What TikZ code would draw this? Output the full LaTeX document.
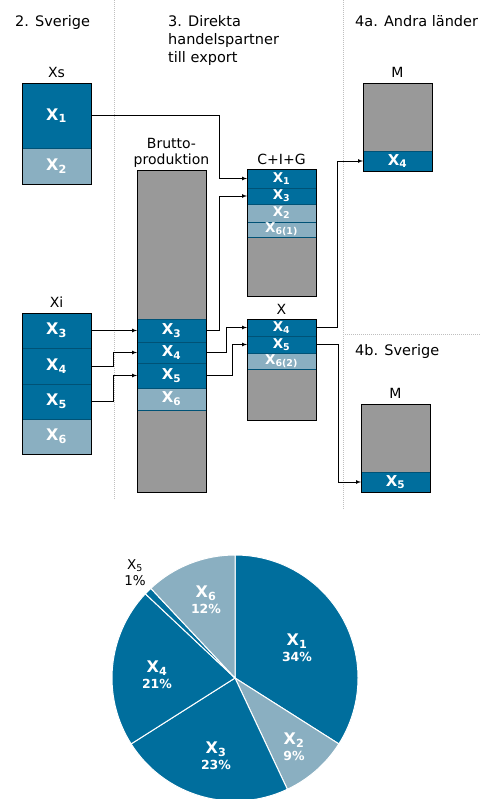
\documentclass[tikz,border=0pt]{standalone}
\usepackage{fontspec}
\setmainfont{DejaVu Sans}
\definecolor{dblue}{HTML}{006E9D}
\definecolor{lblue}{HTML}{8AAFC1}
\definecolor{grey}{HTML}{999999}
\usetikzlibrary{arrows.meta,positioning}
\tikzset{>=latex}
\tikzset{
  box/.style={fill=grey,minimum width=69,inner sep=0,outer sep=0,anchor=north west},
  seg/.style={draw=dblue!75!black,line width=0.4pt,minimum width=69,inner sep=0,outer sep=0,text=white,font=\bfseries\fontsize{15}{15}\selectfont},
  bigseg/.style={seg,font=\bfseries\fontsize{16}{16}\selectfont},
  smallseg/.style={seg,font=\bfseries\fontsize{13.5}{13.5}\selectfont},
  dark/.style={fill=dblue},
  light/.style={fill=lblue},
  outline/.style={draw,line width=0.9pt},
  head/.style={font=\fontsize{14.5}{18}\selectfont,inner sep=0,anchor=north west,align=left},
  title/.style={font=\fontsize{14}{16}\selectfont,inner sep=0,align=center},
  flow/.style={->,line width=0.7pt},
  sep/.style={draw=gray!50,dash pattern=on 1pt off 1pt,line width=1pt},
  slice/.style={draw=white,line width=1pt},
  pct/.style={text=white,font=\bfseries\fontsize{12.5}{16}\selectfont,align=center}
}
\newcommand{\xsub}[1]{X\textsubscript{#1}}
\newcommand{\slicelab}[2]{{\fontsize{16}{17}\selectfont\xsub{#1}}\\#2}

\begin{document}
\begin{tikzpicture}[x=1pt,y=-1pt]
  \useasboundingbox (0,0) rectangle (480,799);
  \draw[sep] (114,0) -- (114,500);
  \draw[sep] (343,0) -- (343,510);
  \draw[sep] (343,334) -- (480,334);

  \node[head] (hsv) at (15,15) {2. Sverige};
  \node[head] (hdir) at (168,15) {3. Direkta\\handelspartner\\till export};
  \node[head] (hand) at (355,15) {4a. Andra länder};
  \node[head] (hsv2) at (355,344) {4b. Sverige};

  \node[box,minimum height=101] (xs) at (22,83) {};
  \node[bigseg,dark,minimum height=65,anchor=north west] (xs1) at (22,83) {\xsub{1}};
  \node[bigseg,light,minimum height=36,below=0pt of xs1] (xs2) {\xsub{2}};

  \node[box,minimum height=141] (xi) at (22,313) {};
  \node[bigseg,dark,minimum height=35,anchor=north west] (xi3) at (22,313) {\xsub{3}};
  \node[bigseg,dark,minimum height=36,below=0pt of xi3] (xi4) {\xsub{4}};
  \node[bigseg,dark,minimum height=35,below=0pt of xi4] (xi5) {\xsub{5}};
  \node[bigseg,light,minimum height=35,below=0pt of xi5] (xi6) {\xsub{6}};

  \node[box,minimum height=322] (brutto) at (137,170) {};
  \node[seg,dark,minimum height=23,anchor=north west] (bp3) at (137,319) {\xsub{3}};
  \node[seg,dark,minimum height=21,below=0pt of bp3] (bp4) {\xsub{4}};
  \node[seg,dark,minimum height=25,below=0pt of bp4] (bp5) {\xsub{5}};
  \node[seg,light,minimum height=22,below=0pt of bp5] (bp6) {\xsub{6}};

  \node[box,minimum height=127] (cig) at (247,169) {};
  \node[smallseg,dark,minimum height=19,anchor=north west] (c1) at (247,169) {\xsub{1}};
  \node[smallseg,dark,minimum height=16,below=0pt of c1] (c3) {\xsub{3}};
  \node[smallseg,light,minimum height=18,below=0pt of c3] (c2) {\xsub{2}};
  \node[smallseg,light,minimum height=15,below=0pt of c2] (c6) {\xsub{6(1)}};

  \node[box,minimum height=101] (xx) at (247,319) {};
  \node[smallseg,dark,minimum height=17,anchor=north west] (x4) at (247,319) {\xsub{4}};
  \node[smallseg,dark,minimum height=17,below=0pt of x4] (x5) {\xsub{5}};
  \node[smallseg,light,minimum height=16,below=0pt of x5] (x6) {\xsub{6(2)}};

  \node[box,minimum height=88] (ma) at (363,83) {};
  \node[seg,dark,minimum height=20,anchor=north west] (m4) at (363,151) {\xsub{4}};
  \node[box,minimum height=88] (mb) at (361,404) {};
  \node[seg,dark,minimum height=20,anchor=north west] (m5) at (361,472) {\xsub{5}};

  \foreach \n in {xs,xi,brutto,cig,xx,ma,mb}
    \draw[outline] (\n.north west) rectangle (\n.south east);

  \node[title,above=5pt of xs] (txs) {Xs};
  \node[title,above=5pt of xi] (txi) {Xi};
  \node[title,above=2pt of brutto] (tbrutto) {Brutto-\\produktion};
  \node[title,above=4pt of cig] (tcig) {C+I+G};
  \node[title,above=4pt of xx] (txx) {X};
  \node[title,above=5pt of ma] (tma) {M};
  \node[title,above=5pt of mb] (tmb) {M};

  \draw[flow] (xs1.east) -| ([xshift=-28]c1.west) -- (c1.west);
  \draw[flow] (bp3.east) -| ([xshift=-28]c3.west) -- (c3.west);
  \draw[flow] (bp4.east) -| ([xshift=-21]x4.west) -- (x4.west);
  \draw[flow] (bp5.east) -| ([xshift=-15]x5.west) -- (x5.west);
  \draw[flow] (x4.east) -| ([xshift=-26]m4.west) -- (m4.west);
  \draw[flow] (x5.east) -| ([xshift=-23]m5.west) -- (m5.west);
  \draw[flow] (xi3.east) -- (bp3.west);
  \draw[flow] (xi4.east) -| ([xshift=-24]bp4.west) -- (bp4.west);
  \draw[flow] (xi5.east) -| ([xshift=-24]bp5.west) -- (bp5.west);

  \coordinate (pie) at (235,678);
  \foreach \a/\b/\c in {-90/32.4/dblue,32.4/64.8/lblue,64.8/147.6/dblue,147.6/223.2/dblue,223.2/226.8/dblue,226.8/270/lblue}
    \filldraw[slice,fill=\c] (pie) -- ++(\a:123) arc[start angle=\a,end angle=\b,radius=123] -- cycle;
  \node[pct] (p1) at (297,648) {\slicelab{1}{34\%}};
  \node[pct] (p2) at (294,747) {\slicelab{2}{9\%}};
  \node[pct] (p3) at (216,756) {\slicelab{3}{23\%}};
  \node[pct] (p4) at (157,675) {\slicelab{4}{21\%}};
  \node[pct] (p6) at (206,600) {\slicelab{6}{12\%}};
  \node[font=\fontsize{13.5}{16}\selectfont,align=center] (p5) at (135,573) {\xsub{5}\\1\%};
\end{tikzpicture}
\end{document}
